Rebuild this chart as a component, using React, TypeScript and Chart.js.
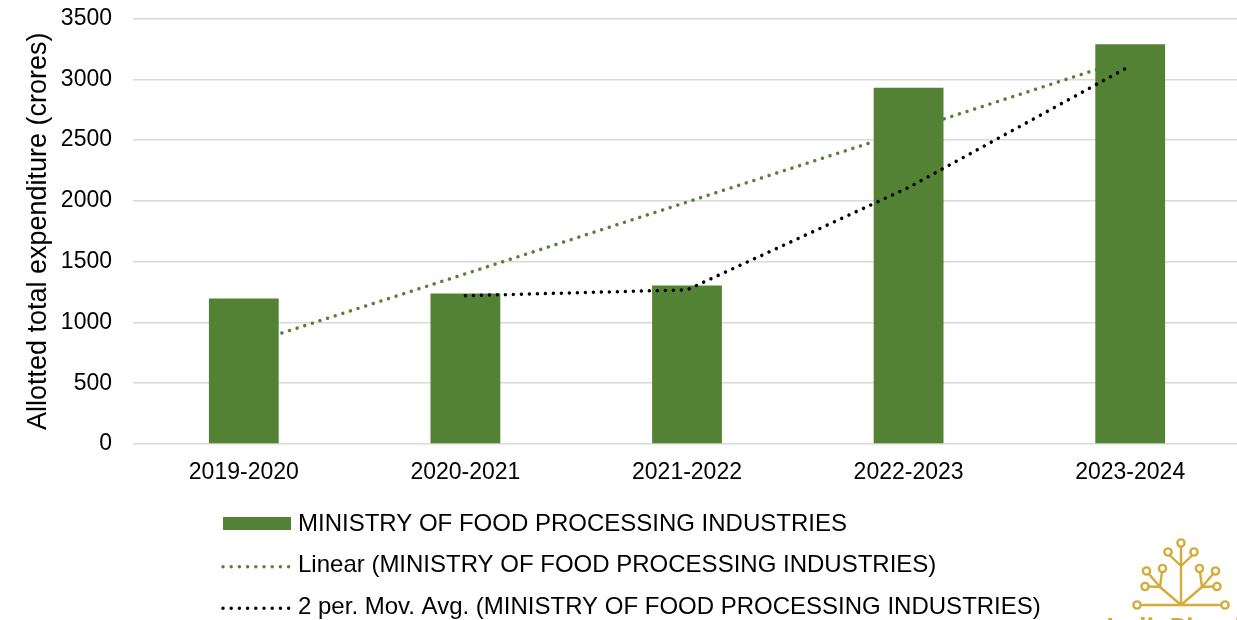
import React, { useEffect, useRef } from "react";
import { Chart, registerables } from "chart.js";

Chart.register(...registerables);

const categories = ["2019-2020", "2020-2021", "2021-2022", "2022-2023", "2023-2024"];
const expenditure = [1197, 1238, 1304, 2930, 3288];
const linearTrend = [812, 1400, 1990, 2580, 3170];
const movingAvg = [null, 1220, 1268, 2110, 3110];
const yMin = 0;
const yMax = 3500;
const yStep = 500;
const seriesName = "MINISTRY OF FOOD PROCESSING INDUSTRIES";
const legendLabels = [
  seriesName,
  `Linear (${seriesName})`,
  `2 per. Mov. Avg. (${seriesName})`,
];
const yTitle = "Allotted total expenditure (crores)";
const logoText = "IndiaBioscience";

const BAR_GREEN = "#548235";
const TREND_GREEN = "#548235";
const GOLD = "#D4AC3C";
const FONT = "'Liberation Sans', Arial, sans-serif";

const legendPlugin = {
  id: "customLegend",
  afterDraw(chart: any) {
    const ctx = chart.ctx as CanvasRenderingContext2D;
    ctx.save();
    const swX0 = 223;
    const swX1 = 291;
    const textX = 298;
    const baselines = [531, 572.3, 614.3];
    ctx.font = `24px ${FONT}`;
    ctx.textBaseline = "alphabetic";
    ctx.textAlign = "left";
    ctx.fillStyle = BAR_GREEN;
    ctx.fillRect(swX0, 517, swX1 - swX0, 13);
    const dotted = (y: number, color: string) => {
      ctx.beginPath();
      ctx.setLineDash([0.001, 8.2]);
      ctx.lineCap = "round";
      ctx.lineWidth = 3.5;
      ctx.strokeStyle = color;
      ctx.moveTo(swX0, y);
      ctx.lineTo(swX1, y);
      ctx.stroke();
      ctx.setLineDash([]);
    };
    dotted(566.7, TREND_GREEN);
    dotted(608.3, "#000");
    ctx.fillStyle = "#000";
    legendLabels.forEach((t, i) => ctx.fillText(t, textX, baselines[i]));

    // watermark logo
    ctx.strokeStyle = GOLD;
    ctx.lineWidth = 2.4;
    ctx.lineCap = "round";
    const line = (x1: number, y1: number, x2: number, y2: number) => {
      ctx.beginPath();
      ctx.moveTo(x1, y1);
      ctx.lineTo(x2, y2);
      ctx.stroke();
    };
    const circ = (x: number, y: number) => {
      ctx.beginPath();
      ctx.arc(x, y, 3.6, 0, Math.PI * 2);
      ctx.fillStyle = "#fff";
      ctx.fill();
      ctx.stroke();
    };
    const cx = 1181;
    line(cx, 547, cx, 605);
    line(1141, 605, 1222, 605);
    const half = (s: number) => {
      const X = (x: number) => cx + s * (x - cx);
      line(X(1169.5), 555, cx, 566);
      line(cx, 605, X(1160), 587);
      line(X(1160), 587, X(1149), 574);
      line(X(1160), 587, X(1162), 572);
      line(X(1160), 587, X(1149), 586.5);
      circ(X(1168), 552);
      circ(X(1146.5), 571);
      circ(X(1162.5), 568.5);
      circ(X(1145), 586.5);
      circ(X(1137), 605);
    };
    half(1);
    half(-1);
    circ(cx, 543);
    ctx.fillStyle = GOLD;
    ctx.font = `bold 25px 'Open Sans', ${FONT}`;
    ctx.fillText(logoText, 1106, 636);
    ctx.restore();
  },
};

export default function App() {
  const canvasRef = useRef<HTMLCanvasElement | null>(null);

  useEffect(() => {
    document.body.style.margin = "0";
    const canvas = canvasRef.current;
    if (!canvas) return;
    const chart = new Chart(canvas, {
      type: "bar",
      data: {
        labels: categories,
        datasets: [
          {
            type: "line",
            label: legendLabels[2],
            data: movingAvg,
            borderColor: "#000",
            borderWidth: 3.5,
            borderDash: [0.001, 8],
            borderCapStyle: "round",
            pointRadius: 0,
            fill: false,
            tension: 0,
            spanGaps: false,
            order: 1,
          } as any,
          {
            type: "line",
            label: legendLabels[1],
            data: linearTrend,
            borderColor: TREND_GREEN,
            borderWidth: 3.5,
            borderDash: [0.001, 8],
            borderCapStyle: "round",
            pointRadius: 0,
            fill: false,
            tension: 0,
            order: 2,
          } as any,
          {
            type: "bar",
            label: legendLabels[0],
            data: expenditure,
            backgroundColor: BAR_GREEN,
            borderWidth: 0,
            barPercentage: 0.315,
            categoryPercentage: 1,
            order: 3,
          },
        ],
      },
      options: {
        responsive: false,
        animation: false,
        devicePixelRatio: 1,
        layout: { padding: { left: 18, top: 18.5, right: 0, bottom: 118.4 } },
        plugins: {
          legend: { display: false },
          tooltip: { enabled: false },
        },
        scales: {
          x: {
            grid: { display: false, drawTicks: false },
            border: { display: false },
            ticks: {
              color: "#000",
              padding: 15,
              font: { family: FONT, size: 23 },
              maxRotation: 0,
            },
          },
          y: {
            min: yMin,
            max: yMax,
            grid: { color: "#D9D9D9", lineWidth: 1.5, drawTicks: false },
            border: { display: false },
            afterFit: (scale: any) => {
              scale.width = 115;
              scale.paddingTop = 0;
              scale.paddingBottom = 0;
            },
            ticks: {
              stepSize: yStep,
              color: "#000",
              padding: 21,
              font: { family: FONT, size: 23 },
              callback: (v: any) => String(v),
            },
            title: {
              display: true,
              text: yTitle,
              color: "#000",
              font: { family: FONT, size: 27 },
              padding: { top: 4, bottom: 0 },
            },
          },
        },
      },
      plugins: [legendPlugin],
    });
    return () => chart.destroy();
  }, []);

  return (
    <div style={{ width: 1237, height: 620, overflow: "hidden", position: "relative", background: "#fff" }}>
      <canvas ref={canvasRef} width={1241} height={620} style={{ display: "block" }} />
    </div>
  );
}
